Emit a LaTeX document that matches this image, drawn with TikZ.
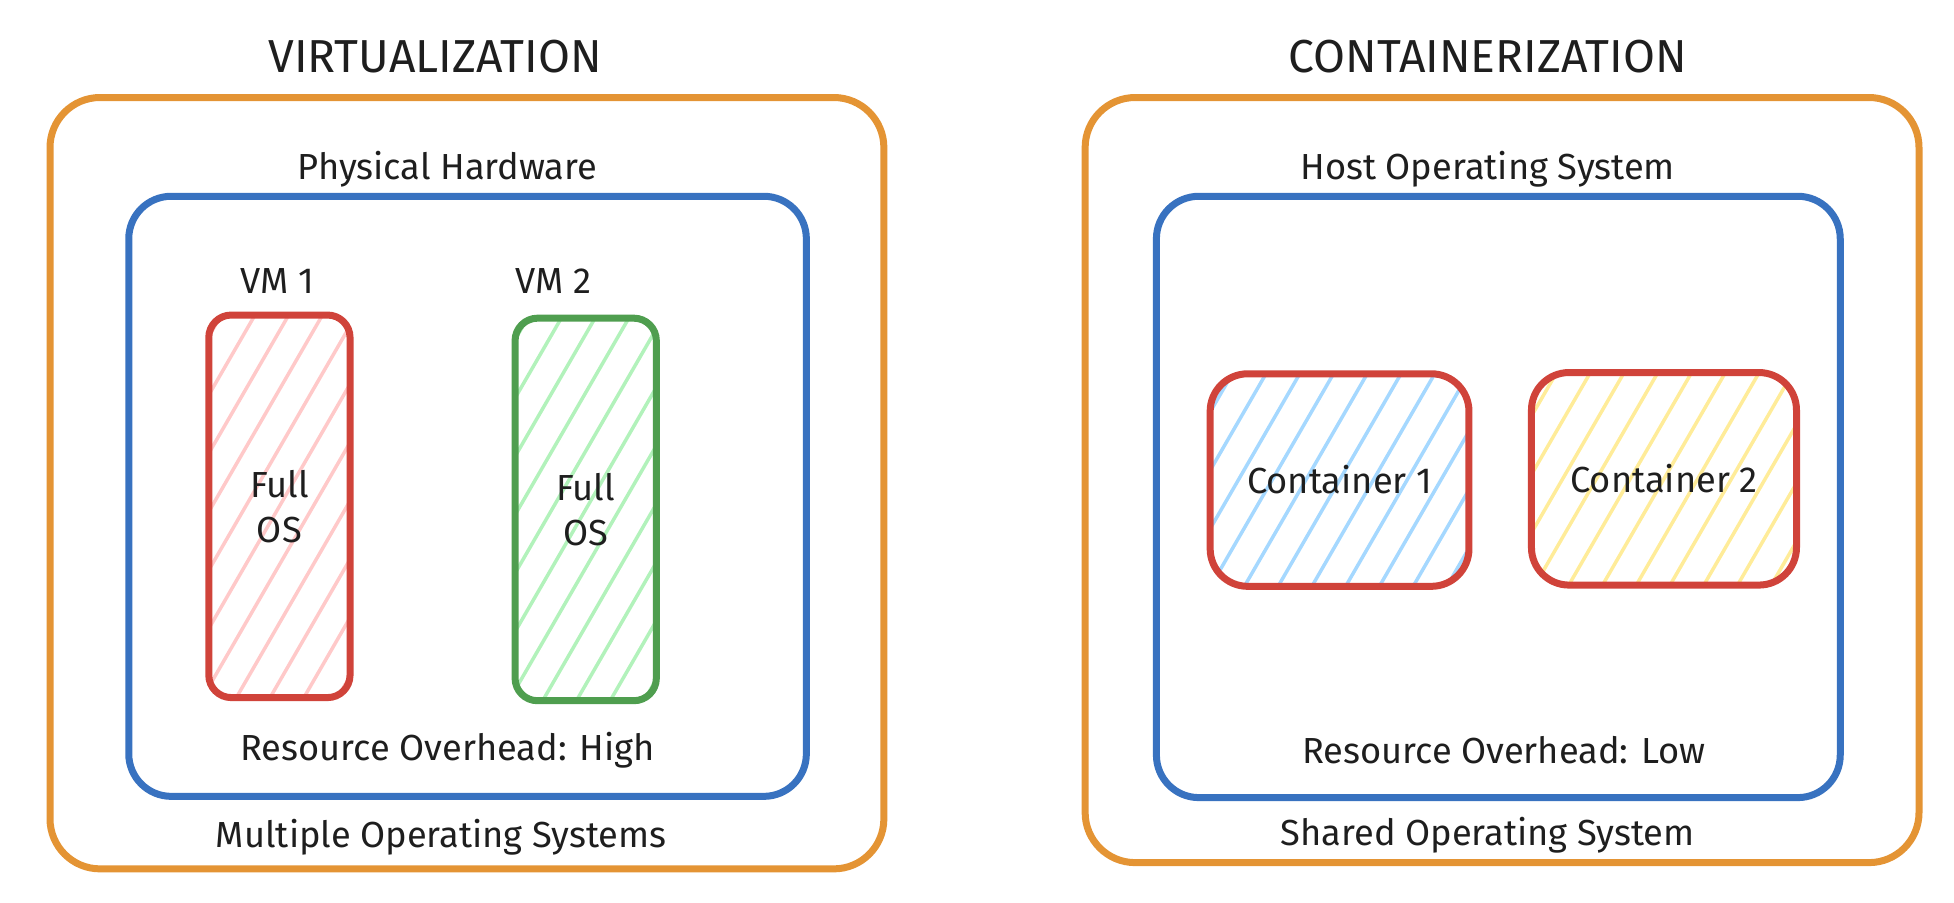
\documentclass[tikz,border=0pt]{standalone}
\usepackage{fontspec}
\setmainfont{Fira Sans}
\usepackage{tikz}
\usetikzlibrary{calc,positioning}
\definecolor{orangeline}{HTML}{E49434}
\definecolor{blueline}{HTML}{3872C0}
\definecolor{redline}{HTML}{D0433A}
\definecolor{greenline}{HTML}{4F9E4F}
\definecolor{pinkfill}{HTML}{FFC9C9}
\definecolor{mintfill}{HTML}{B2F2BB}
\definecolor{skyfill}{HTML}{A5D8FF}
\definecolor{lemonfill}{HTML}{FFEC99}
\definecolor{ink}{HTML}{1E1E1E}
\tikzstyle{frame} = [draw=orangeline,line width=2.8pt,rounded corners=20pt,inner sep=0pt]
\tikzstyle{layer} = [draw=blueline,line width=2.8pt,rounded corners=17pt,inner sep=0pt]
\tikzstyle{vmbox} = [line width=2.8pt,rounded corners=9pt,inner sep=0pt,align=center,
                     minimum width=56.5pt,minimum height=153pt,text=ink,
                     font=\fontsize{14.5}{18}\selectfont]
\tikzstyle{ctbox} = [draw=redline,line width=2.8pt,rounded corners=15pt,inner sep=0pt,
                     minimum height=85pt,text=ink,font=\fontsize{14.5}{18}\selectfont]
\tikzstyle{tag} = [text=ink,font=\fontsize{14.5}{17}\selectfont]
\tikzstyle{heading} = [text=ink,font=\fontsize{18.5}{22}\selectfont]
\tikzset{hatch/.style={path picture={
  \foreach \k in {-9,...,9}
    \draw[#1,line width=1.4pt] ($(path picture bounding box.center)+(\k*27-100,173)$) -- ++(200,-346);}}}

\begin{document}
\begin{tikzpicture}[x=0.5pt,y=-0.5pt]
  \useasboundingbox (0,0) rectangle (1563,722);

  % virtualization
  \node (virt)[heading] at (348,45) {VIRTUALIZATION};
  \node (multi)[frame,minimum width=333.5pt,minimum height=308.5pt] at (373.5,386.5) {};
  \node (hw)[layer,minimum width=271pt,minimum height=240pt] at (374,397) {};
  \node (hwlabel)[tag] at (358,135) {Physical Hardware};
  \node (vm1)[vmbox,draw=redline,hatch=pinkfill] at (223.5,405) {Full\\OS};
  \node (vm2)[vmbox,draw=greenline,hatch=mintfill] at (468.5,407.5) {Full\\OS};
  \node (vm1label)[tag] at (222,225) {VM 1};
  \node (vm2label)[tag] at (443,225) {VM 2};
  \node (highcost)[tag] at (358,600) {Resource Overhead: High};
  \node (multilabel)[tag] at (353,670) {Multiple Operating Systems};

  % containerization
  \node (cont)[heading] at (1190,45) {CONTAINERIZATION};
  \node (shared)[frame,minimum width=333.5pt,minimum height=306pt] at (1201.5,384) {};
  \node (host)[layer,minimum width=273.5pt,minimum height=240.5pt] at (1198.5,397.5) {};
  \node (hostlabel)[tag] at (1190,135) {Host Operating System};
  \node (ct1)[ctbox,minimum width=103.5pt,hatch=skyfill] at (1071.5,384) {Container 1};
  \node (ct2)[ctbox,minimum width=106pt,hatch=lemonfill] at (1331,383) {Container 2};
  \node (lowcost)[tag] at (1203,600) {Resource Overhead: Low};
  \node (sharedlabel)[tag] at (1190,668) {Shared Operating System};
\end{tikzpicture}
\end{document}
